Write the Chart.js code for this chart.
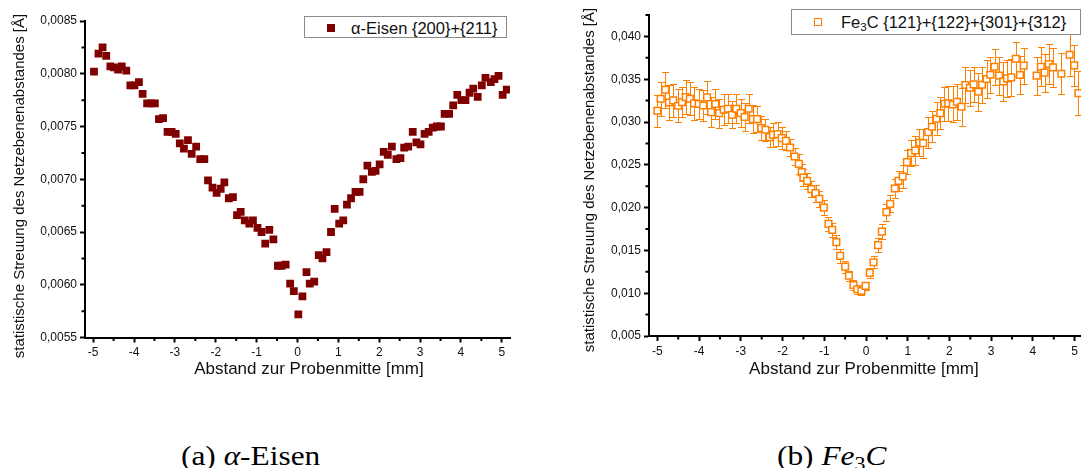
<!DOCTYPE html>
<html>
<head>
<meta charset="utf-8">
<script src="https://cdn.jsdelivr.net/npm/chart.js@4.4.1/dist/chart.umd.min.js"></script>
<style>
  html, body { margin:0; padding:0; background:#fff; }
  body { width:1081px; height:468px; overflow:hidden; position:relative; font-family:"Liberation Sans", Arial, sans-serif; }
  .cv { position:absolute; top:0; }
  .legend { position:absolute; background:#fff; border:1px solid #8a8a8a; box-sizing:border-box; z-index:2; }
  .legend .txt { position:absolute; white-space:nowrap; color:#111; font-size:16.5px; line-height:16px; }
  .mk { position:absolute; box-sizing:border-box; }
  .cap { position:absolute; font-family:"Liberation Serif", "DejaVu Serif", serif; font-size:28px; line-height:28px; color:#000; white-space:nowrap; transform:scaleX(1.12); transform-origin:0 50%; }
  sub { font-size:70%; vertical-align:-0.25em; line-height:0; }
</style>
</head>
<body>
<canvas id="chartA" class="cv" style="left:0px" width="540" height="400"></canvas>
<canvas id="chartB" class="cv" style="left:560px" width="530" height="400"></canvas>

<div class="legend" style="left:304px;top:16px;width:203px;height:22px;">
  <div class="mk" style="left:22px;top:7px;width:8px;height:8px;background:#800000;"></div>
  <div class="txt" style="left:46px;top:3px;">α-Eisen {200}+{211}</div>
</div>
<div class="legend" style="left:791px;top:9px;width:290px;height:26px;">
  <div class="mk" style="left:22px;top:8px;width:8px;height:8px;border:1.5px solid #FF8000;background:#fff;"></div>
  <div class="txt" style="left:49px;top:4px;">Fe<sub>3</sub>C {121}+{122}+{301}+{312}</div>
</div>

<div class="cap" style="left:181px;top:442px;">(a) <i>α</i>-Eisen</div>
<div class="cap" style="left:777px;top:442px;">(b) <i>Fe</i><sub>3</sub><i>C</i></div>

<script>
// ---------- data ----------
const alphaX = [-4.98,-4.87,-4.77,-4.68,-4.58,-4.49,-4.39,-4.30,-4.19,-4.09,
  -3.99,-3.88,-3.79,-3.68,-3.58,-3.49,-3.39,-3.29,-3.18,-3.08,
  -2.98,-2.88,-2.78,-2.68,-2.59,-2.48,-2.38,-2.28,-2.19,-2.08,
  -1.98,-1.88,-1.79,-1.68,-1.58,-1.48,-1.39,-1.29,-1.18,-1.09,
  -0.98,-0.88,-0.79,-0.69,-0.59,-0.48,-0.39,-0.29,-0.18,-0.09,
  0.02,0.12,0.22,0.30,0.41,0.52,0.61,0.71,0.82,0.91,
  1.02,1.12,1.21,1.31,1.42,1.52,1.61,1.71,1.82,1.91,
  2.01,2.11,2.21,2.31,2.42,2.52,2.61,2.71,2.82,2.91,
  3.01,3.11,3.21,3.31,3.41,3.51,3.60,3.71,3.81,3.91,
  4.01,4.11,4.21,4.30,4.41,4.51,4.60,4.73,4.82,4.92,
  5.02,5.12];
const alphaY = [0.00802,0.00819,0.00825,0.00817,0.00807,0.00806,0.00804,0.00807,0.00803,0.00789,
  0.00789,0.00792,0.00781,0.00772,0.00772,0.00772,0.00757,0.00758,0.00745,0.00745,
  0.00743,0.00734,0.00729,0.00737,0.00724,0.00731,0.00719,0.00719,0.00699,0.00692,
  0.00687,0.00691,0.00697,0.00682,0.00683,0.00666,0.00669,0.00661,0.00658,0.00661,
  0.00654,0.00650,0.00639,0.00652,0.00643,0.00618,0.00618,0.00619,0.00601,0.00594,
  0.00572,0.00589,0.00612,0.00601,0.00603,0.00628,0.00625,0.00631,0.00650,0.00672,
  0.00658,0.00661,0.00676,0.00682,0.00688,0.00688,0.00700,0.00713,0.00707,0.00708,
  0.00714,0.00726,0.00723,0.00731,0.00719,0.00720,0.00730,0.00731,0.00745,0.00735,
  0.00733,0.00743,0.00745,0.00749,0.00750,0.00750,0.00762,0.00762,0.00770,0.00780,
  0.00775,0.00775,0.00782,0.00786,0.00778,0.00789,0.00796,0.00792,0.00795,0.00798,
  0.00780,0.00785];

const fe3cX = [-5.00,-4.92,-4.81,-4.72,-4.62,-4.50,-4.41,-4.32,-4.22,-4.12,
  -4.01,-3.90,-3.81,-3.71,-3.61,-3.52,-3.41,-3.31,-3.21,-3.11,
  -3.00,-2.91,-2.81,-2.71,-2.61,-2.51,-2.41,-2.31,-2.23,-2.12,
  -2.02,-1.92,-1.82,-1.71,-1.61,-1.54,-1.50,-1.41,-1.31,-1.21,
  -1.12,-1.01,-0.90,-0.81,-0.71,-0.62,-0.50,-0.41,-0.30,-0.21,
  -0.11,-0.01,0.09,0.18,0.29,0.38,0.49,0.58,0.69,0.78,
  0.88,0.98,1.08,1.18,1.28,1.37,1.49,1.58,1.69,1.78,
  1.88,1.97,2.08,2.18,2.29,2.38,2.49,2.58,2.69,2.78,
  2.89,2.98,3.08,3.19,3.29,3.38,3.48,3.59,3.69,3.78,
  4.09,4.19,4.28,4.38,4.48,4.68,4.88,4.99,5.09];
const fe3cY = [0.03131,0.03272,0.03377,0.03228,0.03252,0.03190,0.03233,0.03291,0.03272,0.03217,
  0.03210,0.03193,0.03287,0.03116,0.03210,0.03104,0.03143,0.03155,0.03085,0.03155,
  0.03104,0.03058,0.03155,0.03034,0.03034,0.02929,0.02909,0.02824,0.02851,0.02859,
  0.02812,0.02780,0.02702,0.02597,0.02511,0.02414,0.02351,0.02313,0.02216,0.02169,
  0.02102,0.02000,0.01810,0.01740,0.01596,0.01436,0.01310,0.01205,0.01096,0.01046,
  0.01026,0.01085,0.01237,0.01362,0.01561,0.01720,0.01947,0.02044,0.02223,0.02313,
  0.02363,0.02531,0.02637,0.02667,0.02761,0.02754,0.02882,0.02944,0.03038,0.03104,
  0.03213,0.03217,0.03205,0.03237,0.03178,0.03432,0.03400,0.03439,0.03353,0.03435,
  0.03502,0.03552,0.03646,0.03541,0.03474,0.03509,0.03521,0.03739,0.03549,0.03658,
  0.03541,0.03646,0.03576,0.03677,0.03638,0.03564,0.03786,0.03661,0.03338];
const fe3cErr = [0.00187,0.0020,0.0021,0.0020,0.0019,0.0019,0.0018,0.0020,0.0019,0.0019,
  0.0018,0.0018,0.0019,0.0018,0.0017,0.0017,0.0018,0.0017,0.0016,0.0017,
  0.0016,0.0016,0.0017,0.0016,0.0015,0.0014,0.0013,0.0012,0.0014,0.0014,
  0.0013,0.0011,0.0010,0.0010,0.0012,0.0010,0.0010,0.0009,0.0009,0.0010,
  0.0009,0.0009,0.0008,0.0008,0.0008,0.0008,0.0007,0.0006,0.0006,0.0005,
  0.0005,0.0005,0.0006,0.0007,0.0008,0.0009,0.0010,0.0010,0.0011,0.0012,
  0.0013,0.0014,0.0015,0.0017,0.0016,0.0017,0.0018,0.0018,0.0019,0.0019,
  0.0020,0.0020,0.0021,0.0021,0.0022,0.0021,0.0021,0.0020,0.0022,0.0021,
  0.0022,0.0021,0.0021,0.0022,0.0023,0.0022,0.0022,0.0020,0.0022,0.0021,
  0.0022,0.0023,0.0022,0.0023,0.0023,0.0024,0.0025,0.0024,0.0026];

const xMajorStep = 1;
const xMinorTicks = [-4.5,-3.5,-2.5,-1.5,-0.5,0.5,1.5,2.5,3.5,4.5];
const alphaYMinorTicks = [0.00575,0.00625,0.00675,0.00725,0.00775,0.00825];
const fe3cYMinorTicks = [0.0075,0.0125,0.0175,0.0225,0.0275,0.0325,0.0375,0.0425];

const yTitle = 'statistische Streuung des Netzebenenabstandes [Å]';
const xTitle = 'Abstand zur Probenmitte [mm]';

// ---------- plugins ----------
const minorTicks = {
  id: 'minorTicks',
  afterDraw(chart, args, opts) {
    const {ctx, chartArea, scales} = chart;
    ctx.save();
    ctx.strokeStyle = '#000';
    ctx.lineWidth = 2;
    ctx.beginPath();
    (opts.x || []).forEach(v => {
      const px = scales.x.getPixelForValue(v);
      ctx.moveTo(px, chartArea.bottom);
      ctx.lineTo(px, chartArea.bottom + 3.5);
    });
    (opts.y || []).forEach(v => {
      const py = scales.y.getPixelForValue(v);
      ctx.moveTo(chartArea.left, py);
      ctx.lineTo(chartArea.left - 3.5, py);
    });
    ctx.stroke();
    ctx.restore();
  }
};

const errorBars = {
  id: 'errorBars',
  beforeDatasetsDraw(chart, args, opts) {
    if (!opts.errors) return;
    const {ctx, scales} = chart;
    const meta = chart.getDatasetMeta(0);
    const ds = chart.data.datasets[0];
    ctx.save();
    ctx.strokeStyle = opts.color;
    ctx.lineWidth = 1;
    ctx.beginPath();
    meta.data.forEach((pt, i) => {
      const v = ds.data[i].y, e = opts.errors[i];
      const x = Math.round(pt.x) + 0.5;
      const t = Math.round(scales.y.getPixelForValue(v + e)) + 0.5;
      const b = Math.round(scales.y.getPixelForValue(v - e)) + 0.5;
      ctx.moveTo(x, t); ctx.lineTo(x, b);
      ctx.moveTo(x - 3.5, t); ctx.lineTo(x + 3.5, t);
      ctx.moveTo(x - 3.5, b); ctx.lineTo(x + 3.5, b);
    });
    ctx.stroke();
    ctx.restore();
  }
};

// axis titles placed like the original (slightly off-centre)
const axisTitles = {
  id: 'axisTitles',
  afterDraw(chart, args, o) {
    const {ctx} = chart;
    ctx.save();
    ctx.fillStyle = '#111';
    ctx.textAlign = 'center';
    ctx.textBaseline = 'middle';
    ctx.font = '17px "Liberation Sans", Arial, sans-serif';
    ctx.fillText(o.xText, chart.scales.x.getPixelForValue(o.xCenter), o.xY);
    ctx.translate(o.yX, o.yY);
    ctx.rotate(-Math.PI / 2);
    ctx.font = '15px "Liberation Sans", Arial, sans-serif';
    ctx.fillText(o.yText, 0, 0);
    ctx.restore();
  }
};

Chart.register(minorTicks, errorBars, axisTitles);

function makeChart(id, cfg) {
  const pts = cfg.xs.map((x, i) => ({x, y: cfg.ys[i]}));
  return new Chart(document.getElementById(id), {
    type: 'scatter',
    data: { datasets: [{
      label: cfg.label,
      data: pts,
      pointStyle: 'rect',
      pointRadius: cfg.radius,
      pointHoverRadius: cfg.radius,
      pointBorderWidth: cfg.borderWidth,
      pointBackgroundColor: cfg.fill,
      pointBorderColor: cfg.stroke,
      showLine: false
    }]},
    options: {
      responsive: false,
      animation: false,
      devicePixelRatio: 1,
      layout: { padding: cfg.padding },
      plugins: {
        legend: { display: false },
        tooltip: { enabled: false },
        minorTicks: { x: xMinorTicks, y: cfg.yMinor },
        errorBars: { errors: cfg.errors, color: cfg.stroke },
        axisTitles: { xText: xTitle, yText: yTitle, xCenter: cfg.xTitleCenter, xY: cfg.xTitleY, yX: cfg.yTitleX, yY: cfg.yTitleY }
      },
      scales: {
        x: {
          type: 'linear', min: -5.2, max: 5.2,
          afterFit: s => { s.height = cfg.xHeight; },
          border: { display: true, color: '#000', width: 2 },
          grid: { display: true, drawOnChartArea: false, drawTicks: true, tickLength: 5, tickWidth: 2, tickColor: '#000' },
          ticks: { stepSize: xMajorStep, includeBounds: false, autoSkip: false, maxRotation: 0, padding: 3, color: '#111',
                   font: { family: '"Liberation Sans", Arial, sans-serif', size: 12 },
                   callback: v => String(v) },
          title: { display: false }
        },
        y: {
          type: 'linear', min: cfg.yMin, max: cfg.yMax,
          afterFit: s => { s.width = cfg.yWidth; },
          border: { display: true, color: '#000', width: 2 },
          grid: { display: true, drawOnChartArea: false, drawTicks: true, tickLength: 5, tickWidth: 2, tickColor: '#000' },
          ticks: { stepSize: cfg.yStep, includeBounds: false, autoSkip: false, padding: 3, color: '#111',
                   font: { family: '"Liberation Sans", Arial, sans-serif', size: 12 },
                   callback: v => v.toFixed(cfg.dec).replace('.', ',') },
          title: { display: false }
        }
      }
    }
  });
}

makeChart('chartA', {
  label: 'α-Eisen {200}+{211}',
  xs: alphaX, ys: alphaY,
  radius: 5.5, borderWidth: 0, fill: '#800000', stroke: '#800000',
  yMin: 0.0055, yMax: 0.0085, yStep: 0.0005, dec: 4, yMinor: alphaYMinorTicks,
  padding: { left: 0, top: 21, right: 30, bottom: 0 },
  xHeight: 62.5, yWidth: 85,
  xTitleCenter: 0.28, xTitleY: 369, yTitleX: 20, yTitleY: 186
});

makeChart('chartB', {
  label: 'Fe3C {121}+{122}+{301}+{312}',
  xs: fe3cX, ys: fe3cY,
  radius: 4.7, borderWidth: 1.5, fill: '#ffffff', stroke: '#FF8000',
  yMin: 0.005, yMax: 0.0425, yStep: 0.005, dec: 3, yMinor: fe3cYMinorTicks,
  padding: { left: 0, top: 15, right: 7, bottom: 0 },
  xHeight: 64, yWidth: 89,
  xTitleCenter: -0.05, xTitleY: 369, yTitleX: 30, yTitleY: 180,
  errors: fe3cErr
});
</script>
</body>
</html>
